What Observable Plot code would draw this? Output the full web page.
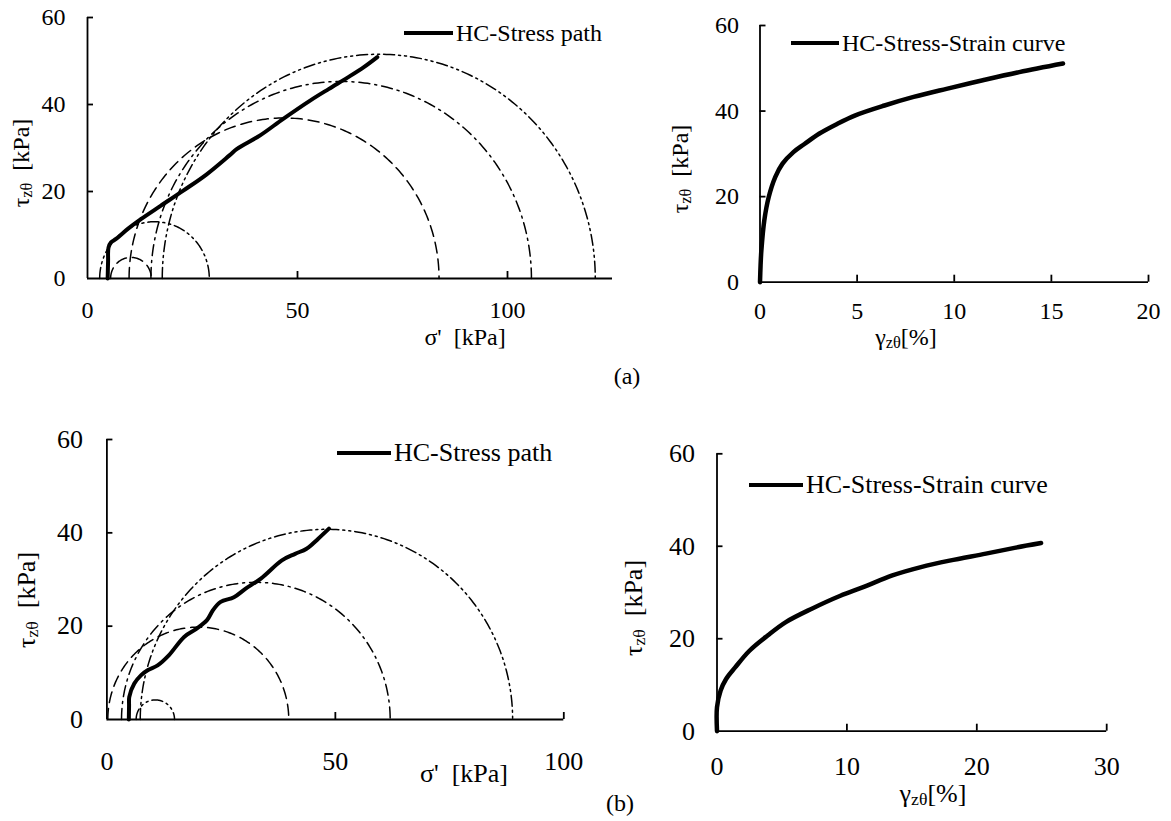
<!DOCTYPE html>
<html><head><meta charset="utf-8">
<script src="https://cdn.jsdelivr.net/npm/d3@7"></script>
<script src="https://cdn.jsdelivr.net/npm/@observablehq/plot@0.6"></script>
<style>
body{margin:0;background:#fff;}
#wrap{position:relative;width:1171px;height:821px;background:#fff;font-family:"Liberation Serif","Times New Roman",serif;color:#000;overflow:hidden;}
.panel{position:absolute;}
.panel text{font-family:"Liberation Serif","Times New Roman",serif !important;}
.lbl{position:absolute;font-family:"Liberation Serif","Times New Roman",serif;white-space:nowrap;line-height:1;}
.rot{transform:translate(-50%,-50%) rotate(-90deg);}
.ctr{transform:translate(-50%,-50%);}
.sub{font-size:0.68em;position:relative;top:0.18em;}
.leg{position:absolute;display:flex;align-items:center;font-family:"Liberation Serif","Times New Roman",serif;white-space:nowrap;transform:translateY(-50%);line-height:1;}
.leg .ln{display:inline-block;height:4px;background:#000;margin-right:3px;}
</style></head>
<body><div id="wrap"></div>
<script>
// ---------- DATA ----------
const yTicks = [0, 20, 40, 60];
const aLeftXTicks = [0, 50, 100];
const aRightXTicks = [0, 5, 10, 15, 20];
const bLeftXTicks = [0, 50, 100];
const bRightXTicks = [0, 10, 20, 30];

// Mohr circles (a): sigma3, sigma1, line style
const aCircS3 = [2.9, 5.5, 9.9, 15.1, 17.8];
const aCircS1 = [29.0, 15.2, 83.7, 105.7, 120.9];
const aCircStyle = ["dashdotdot", "dash", "dash", "dashdot", "dashdotdot"];

// Mohr circles (b)
const bCircS3 = [6.4, 0.2, 3.2, 7.3];
const bCircS1 = [14.8, 39.8, 62.0, 88.8];
const bCircStyle = ["dashdotdot", "dash", "dashdot", "dashdotdot"];

// Stress path (a)
const aPathSigma = [4.8, 4.9, 5.0, 5.6, 6.8, 9.6, 12.8, 17.4, 22.8, 28.3, 33.8, 35.6, 41.1, 46.6, 53.0, 57.5, 62.1, 65.8, 69.0];
const aPathTau   = [0.0, 4.0, 7.1, 8.3, 9.1, 11.4, 13.7, 16.7, 20.2, 23.9, 28.3, 29.8, 32.9, 36.7, 40.9, 43.6, 46.3, 48.6, 50.9];

// Stress-strain (a)
const aGamma = [0, 0.03, 0.07, 0.22, 0.45, 0.79, 1.16, 1.72, 2.29, 3.04, 3.97, 4.91, 6.41, 7.91, 9.6, 11.47, 13.35, 15.6];
const aTau   = [0, 4.0, 7.4, 14.4, 19.9, 24.6, 27.7, 30.4, 32.3, 34.7, 37.0, 39.0, 41.3, 43.3, 45.2, 47.2, 49.1, 51.1];

// Stress path (b)
const bPathSigma = [4.8, 4.85, 4.9, 6.0, 7.5, 9.0, 11.1, 13.6, 16.9, 19.4, 21.9, 23.2, 24.9, 27.8, 30.3, 33.7, 38.3, 41.2, 43.7, 46.2, 48.6];
const bPathTau   = [0.0, 3.0, 4.85, 7.7, 9.5, 10.6, 11.6, 13.8, 17.7, 19.3, 21.3, 23.4, 25.2, 26.2, 28.0, 30.2, 34.1, 35.5, 36.6, 38.7, 40.9];

// Stress-strain (b)
const bGamma = [0, 0, 0.28, 0.7, 1.4, 2.5, 3.9, 5.3, 7.3, 9.5, 11.2, 13.5, 15.7, 17.9, 20.7, 23.0, 24.95];
const bTau   = [0, 5.2, 8.8, 11.3, 13.8, 17.4, 20.7, 23.6, 26.5, 29.3, 31.1, 33.7, 35.5, 36.9, 38.4, 39.7, 40.7];

// ---------- HELPERS ----------
const FONT = '"Liberation Serif","Times New Roman",serif';
const dashes = {dash: "11,6", dashdot: "11,5,2,5", dashdotdot: "11,4,2,4,2,4"};
const zip = (xs, ys) => xs.map((x, i) => ({x, y: ys[i]}));
function arc(s3, s1) {
  const c = (s1 + s3) / 2, r = (s1 - s3) / 2;
  return d3.range(0, 181, 1).map(a => ({x: c - r * Math.cos(a * Math.PI / 180), y: r * Math.sin(a * Math.PI / 180)}));
}
function circleMarks(s3s, s1s, styles) {
  return s3s.map((s3, i) => Plot.line(arc(s3, s1s[i]), {x: "x", y: "y", stroke: "#000", strokeWidth: 1.5, strokeDasharray: dashes[styles[i]]}));
}
const wrap = document.getElementById("wrap");
function panel({left, top, width, height, ml, mr, mt, mb, xDomain, xTicks, xPad, yPad, fs, marks}) {
  const p = Plot.plot({
    width, height, marginLeft: ml, marginRight: mr, marginTop: mt, marginBottom: mb,
    x: {domain: xDomain}, y: {domain: [0, 60]},
    style: {fontFamily: FONT, fontSize: fs + "px", background: "transparent", color: "#000", overflow: "visible"},
    marks: [
      ...marks,
      Plot.ruleY([0], {stroke: "#000", strokeWidth: 1.8}),
      Plot.ruleX([0], {stroke: "#000", strokeWidth: 1.8}),
      Plot.ruleX(xTicks.filter(d => d !== 0), {x: d => d, y1: 0, y2: 0, insetTop: -7, stroke: "#000", strokeWidth: 1.8}),
      Plot.ruleY(yTicks.filter(d => d !== 0), {y: d => d, x1: 0, x2: 0, insetRight: -6, stroke: "#000", strokeWidth: 1.8}),
      Plot.axisX({ticks: xTicks, tickSize: 0, tickPadding: xPad, label: null, fontSize: fs, fontFamily: FONT, fill: "#000"}),
      Plot.axisY({ticks: yTicks, tickSize: 0, tickPadding: yPad, label: null, fontSize: fs, fontFamily: FONT, fill: "#000"})
    ]
  });
  p.classList.add("panel");
  p.style.left = left + "px"; p.style.top = top + "px";
  p.querySelectorAll("text, g").forEach(t => { t.style.fontFamily = FONT; });
  wrap.appendChild(p);
}
function label(html, cx, cy, rot, fs) {
  const d = document.createElement("div");
  d.className = "lbl " + (rot ? "rot" : "ctr");
  d.style.fontSize = fs + "px";
  d.innerHTML = html; d.style.left = cx + "px"; d.style.top = cy + "px";
  wrap.appendChild(d);
}
function legend(text, x, y, lineW, fs) {
  const d = document.createElement("div");
  d.className = "leg"; d.style.left = x + "px"; d.style.top = y + "px"; d.style.fontSize = fs + "px";
  d.innerHTML = `<span class="ln" style="width:${lineW}px"></span><span>${text}</span>`;
  wrap.appendChild(d);
}

// ---------- PANELS ----------
panel({left: 0, top: 0, width: 630, height: 360, ml: 87, mr: 18, mt: 17, mb: 82, xDomain: [0, 125], xTicks: aLeftXTicks, xPad: 22, yPad: 22, fs: 24,
  marks: [...circleMarks(aCircS3, aCircS1, aCircStyle),
    Plot.line(zip(aPathSigma, aPathTau), {x: "x", y: "y", stroke: "#000", strokeWidth: 4, curve: "catmull-rom"})]});
panel({left: 600, top: 0, width: 571, height: 360, ml: 159.5, mr: 23, mt: 25, mb: 78.3, xDomain: [0, 20], xTicks: aRightXTicks, xPad: 20, yPad: 21, fs: 24,
  marks: [Plot.line(zip(aGamma, aTau), {x: "x", y: "y", stroke: "#000", strokeWidth: 4.5, curve: "catmull-rom"})]});
panel({left: 0, top: 400, width: 600, height: 400, ml: 106.4, mr: 36.7, mt: 39, mb: 81, xDomain: [0, 100], xTicks: bLeftXTicks, xPad: 32, yPad: 24, fs: 26,
  marks: [...circleMarks(bCircS3, bCircS1, bCircStyle),
    Plot.line(zip(bPathSigma, bPathTau), {x: "x", y: "y", stroke: "#000", strokeWidth: 4, curve: "catmull-rom"})]});
panel({left: 600, top: 400, width: 571, height: 400, ml: 116.5, mr: 64.8, mt: 53.3, mb: 69.3, xDomain: [0, 30], xTicks: bRightXTicks, xPad: 25, yPad: 22, fs: 26,
  marks: [Plot.line(zip(bGamma, bTau), {x: "x", y: "y", stroke: "#000", strokeWidth: 4.5, curve: "catmull-rom"})]});

// ---------- TEXT ----------
const tauLbl = 'τ<span class="sub">zθ</span>&nbsp; [kPa]';
const sigLbl = "σ'&nbsp; [kPa]";
const gamLbl = 'γ<span class="sub">zθ</span>[%]';
label(tauLbl, 21, 163, true, 24);
label(sigLbl, 465, 337, false, 24);
label(tauLbl, 680, 169, true, 24);
label(gamLbl, 906, 337, false, 24);
label(tauLbl, 27, 600, true, 26);
label(sigLbl, 464, 774, false, 26);
label(tauLbl, 634, 608, true, 26);
label(gamLbl, 933, 794, false, 26);
label("(a)", 627, 376, false, 24);
label("(b)", 620, 803, false, 24);
legend("HC-Stress path", 404, 33, 49, 24);
legend("HC-Stress-Strain curve", 791, 43, 48, 24);
legend("HC-Stress path", 337, 453, 54, 26);
legend("HC-Stress-Strain curve", 749, 485, 54, 26);
</script></body></html>
